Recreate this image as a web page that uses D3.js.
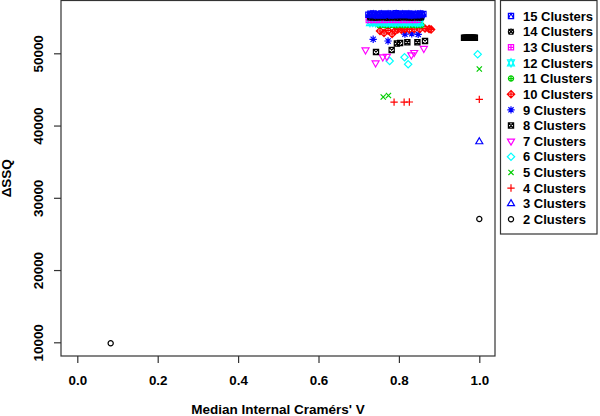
<!DOCTYPE html>
<html>
<head>
<meta charset="utf-8">
<script src="https://cdn.jsdelivr.net/npm/d3@7"></script>
<style>
  body { margin: 0; background: #fff; }
  svg { display: block; }
  text { font-family: "Liberation Sans", Arial, Helvetica, sans-serif; font-weight: bold; }
</style>
</head>
<body>
<svg id="chart" width="600" height="416"></svg>
<script>
// [median internal Cramér's V, delta SSQ] per run, grouped by number of clusters
const clusters2 = [[0.083, 9860], [1.0, 27070]];
const clusters3 = [[1.0, 37760]];
const clusters4 = [[0.788, 43250], [0.813, 43250], [0.826, 43260], [1.0, 43630]];
const clusters5 = [[0.761, 43950], [0.774, 44160], [1.0, 47830]];
const clusters6 = [[0.777, 48940], [0.814, 49450], [0.823, 48480], [0.996, 49860]];
const clusters7 = [[0.717, 50460], [0.742, 48660], [0.760, 49490], [0.770, 49560], [0.831, 49770], [0.838, 50110], [0.862, 50670]];
const clusters8 = [[0.743, 50180], [0.782, 50460], [0.795, 51360], [0.803, 51430], [0.821, 51520], [0.846, 51520], [0.865, 51700],
  [0.962, 52160], [0.965, 52150], [0.968, 52170], [0.971, 52160], [0.975, 52150], [0.978, 52160], [0.981, 52170],
  [0.984, 52160], [0.987, 52150], [0.989, 52160]];
const clusters9 = [[0.736, 51940], [0.773, 51700], [0.815, 52650], [0.832, 52700], [0.848, 52620]];
const clusters10 = [[0.753, 53090], [0.763, 52810], [0.773, 53160], [0.783, 52670], [0.790, 53090], [0.797, 53300], [0.806, 53280],
  [0.815, 53330], [0.826, 53300], [0.838, 53350], [0.852, 53370], [0.865, 53430], [0.875, 53370], [0.880, 53300]];
const clusters11 = [[0.751, 53900], [0.758, 53950], [0.766, 53880], [0.772, 53960], [0.779, 53910], [0.786, 53940], [0.793, 53890],
  [0.801, 53970], [0.807, 53920], [0.814, 53880], [0.822, 53950], [0.828, 53910], [0.835, 53960], [0.842, 53890], [0.849, 53930], [0.856, 53900]];
const clusters12 = [[0.728, 54250], [0.735, 54280], [0.742, 54230], [0.749, 54270], [0.757, 54240], [0.763, 54290], [0.770, 54250],
  [0.777, 54220], [0.785, 54280], [0.791, 54260], [0.798, 54230], [0.806, 54290], [0.812, 54250], [0.819, 54270], [0.826, 54230],
  [0.833, 54280], [0.841, 54250], [0.847, 54260], [0.853, 54240]];
const clusters13 = [[0.725, 54600], [0.731, 54640], [0.738, 54590], [0.745, 54630], [0.751, 54610], [0.758, 54650], [0.765, 54590],
  [0.771, 54620], [0.778, 54640], [0.785, 54600], [0.792, 54630], [0.799, 54590], [0.806, 54650], [0.812, 54610], [0.819, 54630],
  [0.826, 54600], [0.833, 54640], [0.840, 54610], [0.846, 54620]];
const clusters14 = [[0.728, 54940], [0.734, 54970], [0.741, 54920], [0.748, 54960], [0.755, 54950], [0.762, 54980], [0.769, 54930],
  [0.776, 54960], [0.783, 54940], [0.790, 54970], [0.797, 54920], [0.804, 54950], [0.811, 54980], [0.818, 54940], [0.825, 54960],
  [0.832, 54930], [0.839, 54970], [0.846, 54950], [0.852, 54940], [0.856, 54960]];
const clusters15 = [[0.724, 55330], [0.729, 55480], [0.733, 55260], [0.737, 55520], [0.741, 55380], [0.745, 55230], [0.749, 55460],
  [0.753, 55310], [0.757, 55530], [0.761, 55240], [0.765, 55420], [0.769, 55290], [0.773, 55510], [0.777, 55350], [0.781, 55220],
  [0.785, 55470], [0.789, 55300], [0.793, 55540], [0.797, 55250], [0.801, 55410], [0.805, 55330], [0.809, 55500], [0.813, 55260],
  [0.817, 55440], [0.821, 55320], [0.825, 55530], [0.829, 55230], [0.833, 55400], [0.837, 55290], [0.841, 55490], [0.845, 55260],
  [0.849, 55380], [0.853, 55510], [0.857, 55280], [0.861, 55430]];

const seriesLabels = ["2 Clusters", "3 Clusters", "4 Clusters", "5 Clusters", "6 Clusters", "7 Clusters", "8 Clusters",
  "9 Clusters", "10 Clusters", "11 Clusters", "12 Clusters", "13 Clusters", "14 Clusters", "15 Clusters"];
const seriesData = [clusters2, clusters3, clusters4, clusters5, clusters6, clusters7, clusters8,
  clusters9, clusters10, clusters11, clusters12, clusters13, clusters14, clusters15];
const palette = ["#000000", "#0000FF", "#FF0000", "#00CD00", "#00FFFF", "#FF00FF"];

const xTicks = [0, 0.2, 0.4, 0.6, 0.8, 1.0];
const yTicks = [10000, 20000, 30000, 40000, 50000];

const svg = d3.select("#chart");
const plot = { left: 61, right: 495, top: 0.5, bottom: 356 };

const x = d3.scaleLinear().domain([-0.04055, 1.03905]).range([plot.left, plot.right]);
const y = d3.scaleLinear().domain([8104, 57308]).range([plot.bottom, plot.top]);

// R-style plotting symbols (pch 1..14)
function pchPath(pch, r) {
  const p = d3.path();
  const s2 = Math.SQRT2 * r;
  const t0 = 1.5551 * r, t1 = 1.3468 * r, t2 = 0.7776 * r;
  const circle = (rad) => { p.moveTo(rad, 0); p.arc(0, 0, rad, 0, 2 * Math.PI); };
  const square = (h) => { p.rect(-h, -h, 2 * h, 2 * h); };
  const plus = (h) => { p.moveTo(-h, 0); p.lineTo(h, 0); p.moveTo(0, -h); p.lineTo(0, h); };
  const cross = (h) => { p.moveTo(-h, -h); p.lineTo(h, h); p.moveTo(-h, h); p.lineTo(h, -h); };
  const diamond = (h) => { p.moveTo(0, -h); p.lineTo(h, 0); p.lineTo(0, h); p.lineTo(-h, 0); p.closePath(); };
  switch (pch) {
    case 1: circle(r); break;
    case 2: p.moveTo(0, -t0); p.lineTo(t1, t2); p.lineTo(-t1, t2); p.closePath(); break;
    case 3: plus(s2); break;
    case 4: cross(r); break;
    case 5: diamond(s2); break;
    case 6: p.moveTo(0, t0); p.lineTo(t1, -t2); p.lineTo(-t1, -t2); p.closePath(); break;
    case 7: square(r); cross(r); break;
    case 8: cross(r); plus(s2); break;
    case 9: diamond(s2); plus(s2); break;
    case 10: circle(r); plus(r); break;
    case 11: {
      const yc = 0.5 * (t2 + t0);
      p.moveTo(0, -t0); p.lineTo(t1, yc); p.lineTo(-t1, yc); p.closePath();
      p.moveTo(0, t0); p.lineTo(t1, -yc); p.lineTo(-t1, -yc); p.closePath();
      break;
    }
    case 12: square(r); plus(r); break;
    case 13: circle(r); cross(r); break;
    case 14: square(r); p.moveTo(-r, r); p.lineTo(0, -r); p.lineTo(r, r); break;
  }
  return p.toString();
}

const symbolRadius = 2.6;
const symbolStroke = 1.2;
const series = seriesData.map((values, i) => ({
  label: seriesLabels[i],
  pch: i + 1,
  color: palette[i % palette.length],
  values
}));

svg.append("rect").attr("width", 600).attr("height", 416).attr("fill", "#fff");

svg.append("defs").append("clipPath").attr("id", "clip")
  .append("rect").attr("x", plot.left).attr("y", -5)
  .attr("width", plot.right - plot.left).attr("height", plot.bottom + 5);

// points
const pointLayer = svg.append("g").attr("clip-path", "url(#clip)");
series.forEach((s) => {
  pointLayer.append("g")
    .selectAll("path")
    .data(s.values)
    .join("path")
    .attr("transform", (d) => `translate(${x(d[0])},${y(d[1])})`)
    .attr("d", pchPath(s.pch, symbolRadius))
    .attr("fill", "none")
    .attr("stroke", s.color)
    .attr("stroke-width", symbolStroke);
});

// plot box
svg.append("rect")
  .attr("x", plot.left).attr("y", plot.top)
  .attr("width", plot.right - plot.left).attr("height", plot.bottom - plot.top)
  .attr("fill", "none").attr("stroke", "#333").attr("stroke-width", 1.2);

// x axis
const xAxis = svg.append("g")
  .attr("transform", `translate(0,${plot.bottom})`)
  .call(d3.axisBottom(x).tickValues(xTicks).tickSize(7).tickFormat(d3.format(".1f")));
xAxis.select(".domain").remove();
xAxis.selectAll(".tick line").attr("stroke", "#333").attr("stroke-width", 1.2);
xAxis.selectAll(".tick text")
  .attr("y", 28.8).attr("dy", null)
  .attr("fill", "#000")
  .style("font-size", "13.4px");

// y axis
const yAxis = svg.append("g")
  .attr("transform", `translate(${plot.left},0)`)
  .call(d3.axisLeft(y).tickValues(yTicks).tickSize(7).tickFormat(d3.format("d")));
yAxis.select(".domain").remove();
yAxis.selectAll(".tick line").attr("stroke", "#333").attr("stroke-width", 1.2);
yAxis.selectAll(".tick text")
  .attr("x", null).attr("dy", null)
  .attr("transform", "translate(-18,0) rotate(-90)")
  .attr("text-anchor", "middle")
  .attr("fill", "#000")
  .style("font-size", "13.4px");

// axis titles
svg.append("text")
  .attr("x", (plot.left + plot.right) / 2)
  .attr("y", 414)
  .attr("text-anchor", "middle")
  .style("font-size", "13.5px")
  .text("Median Internal Cramérs' V");

svg.append("text")
  .attr("transform", `translate(11,${(plot.top + plot.bottom) / 2}) rotate(-90)`)
  .attr("text-anchor", "middle")
  .style("font-size", "13.5px")
  .text("ΔSSQ");

// legend
const legend = svg.append("g");
legend.append("rect")
  .attr("x", 500.5).attr("y", 0.5)
  .attr("width", 96.5).attr("height", 233.5)
  .attr("fill", "#fff").attr("stroke", "#333").attr("stroke-width", 1.2);

const legendItems = legend.selectAll("g.item")
  .data(series.slice().reverse())
  .join("g")
  .attr("class", "item")
  .attr("transform", (d, i) => `translate(0,${16 + i * 15.64})`);

legendItems.append("path")
  .attr("transform", "translate(511,0)")
  .attr("d", (d) => pchPath(d.pch, symbolRadius))
  .attr("fill", "none")
  .attr("stroke", (d) => d.color)
  .attr("stroke-width", symbolStroke);

legendItems.append("text")
  .attr("x", 523)
  .attr("y", 4.7)
  .style("font-size", "13px")
  .text((d) => d.label);
</script>
</body>
</html>
